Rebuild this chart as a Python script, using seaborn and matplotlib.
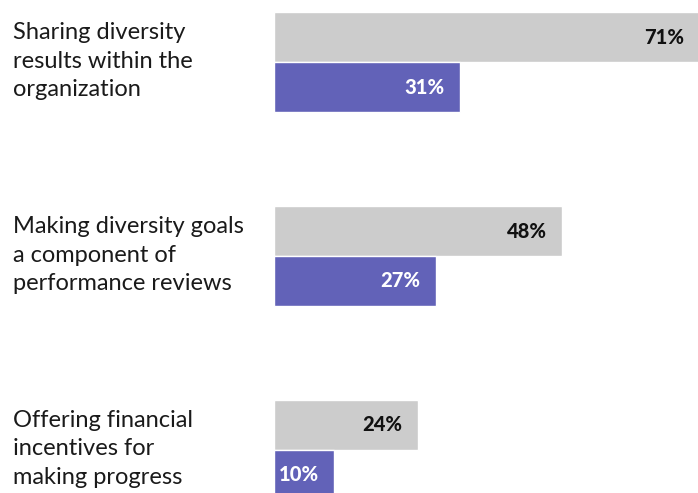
import pandas as pd
import matplotlib.pyplot as plt
import matplotlib.transforms as mtransforms
import seaborn as sns

# Chart data
categories = [
    "Sharing diversity\nresults within the\norganization",
    "Making diversity goals\na component of\nperformance reviews",
    "Offering financial\nincentives for\nmaking progress",
]
series_names = ["Group A", "Group B"]
group_a = [71, 48, 24]
group_b = [31, 27, 10]

colors = ["#cccccc", "#6262b8"]
text_colors = ["#111111", "#ffffff"]

sns.set_theme(style="white")
plt.rcParams["font.family"] = ["Lato", "DejaVu Sans"]

df = pd.DataFrame({
    "Practice": categories * 2,
    "Series": [series_names[0]] * 3 + [series_names[1]] * 3,
    "Value": group_a + group_b,
})

fig = plt.figure(figsize=(6.98, 4.93), dpi=100)
ax = fig.add_axes([274 / 698, 0, 1 - 274 / 698, 1])

sns.barplot(data=df, y="Practice", x="Value", hue="Series", orient="h",
            palette=colors, width=0.515, saturation=1, legend=False, ax=ax)

ax.set_xlim(0, 70.7)
ax.set_ylim(2.222, -0.32)
ax.set_xlabel("")
ax.set_ylabel("")
ax.set_xticks([])
ax.set_yticks([])
sns.despine(ax=ax, left=True, bottom=True)

# category labels on the left, left aligned
trans = mtransforms.blended_transform_factory(fig.transFigure, ax.transData)
for i, label in enumerate(categories):
    ax.text(13 / 698, i - 0.005, label, transform=trans, ha="left", va="center",
            fontsize=17, color="#1a1a1a", linespacing=1.45)

# value labels inside the bar ends
for bars, tc in zip(ax.containers, text_colors):
    for rect in bars:
        w = rect.get_width()
        yc = rect.get_y() + rect.get_height() / 2
        ax.annotate(f"{w:.0f}%", xy=(w, yc), xytext=(-11, 0),
                    textcoords="offset points", ha="right", va="center",
                    fontsize=14.5, fontweight="black", color=tc,
                    annotation_clip=False)

fig.savefig("out.png", dpi=100)
